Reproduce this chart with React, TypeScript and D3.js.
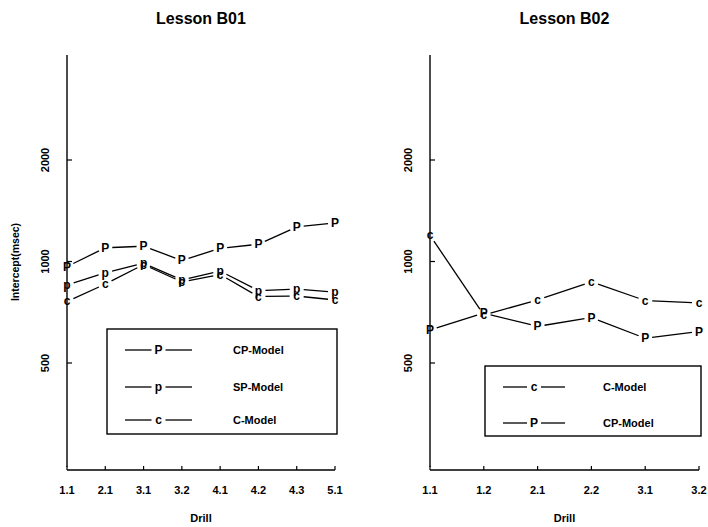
import React from 'react';
import * as d3 from 'd3';

// Lesson B01
const drillsB01 = ['1.1', '2.1', '3.1', '3.2', '4.1', '4.2', '4.3', '5.1'];
const cpB01 = [966, 1098, 1110, 1007, 1094, 1125, 1266, 1302];
const spB01 = [852, 926, 988, 882, 937, 820, 828, 811];
const cB01 = [761, 857, 979, 870, 915, 787, 790, 769];

// Lesson B02
const drillsB02 = ['1.1', '1.2', '2.1', '2.2', '3.1', '3.2'];
const cB02 = [1196, 694, 769, 870, 766, 753];
const cpB02 = [627, 703, 642, 682, 592, 620];

const yTicks = [500, 1000, 2000];

const FONT = '"Liberation Sans", Arial, Helvetica, sans-serif';

type Series = { sym: string; label: string; values: number[] };

function gappedSegments(pts: [number, number][], gap: number) {
  const segs: [number, number, number, number][] = [];
  for (let i = 0; i < pts.length - 1; i++) {
    const [x0, y0] = pts[i];
    const [x1, y1] = pts[i + 1];
    const len = Math.hypot(x1 - x0, y1 - y0);
    if (len <= gap * 2) continue;
    const ux = (x1 - x0) / len;
    const uy = (y1 - y0) / len;
    segs.push([x0 + ux * gap, y0 + uy * gap, x1 - ux * gap, y1 - uy * gap]);
  }
  return segs;
}

function Panel({ title, drills, series, left, right, legend, showYLabel }: {
  title: string;
  drills: string[];
  series: Series[];
  left: number;
  right: number;
  legend: { x: number; y: number; w: number; h: number; rows: number[]; lx0: number; lx1: number; tx: number };
  showYLabel: boolean;
}) {
  const y = d3.scaleLog().domain([250, 4000]).range([464.5, 58.5]);
  const x = d3.scalePoint<string>().domain(drills).range([left, right]);
  const axisBottom = 470;
  const cx = (left + right) / 2;

  return (
    <g fontFamily={FONT}>
      <text x={cx} y={24} textAnchor="middle" fontSize={16} fontWeight="bold">{title}</text>
      {/* y axis */}
      <line x1={left} x2={left} y1={55} y2={467} stroke="#000" strokeWidth={1.4} />
      {yTicks.map(t => (
        <g key={t}>
          <line x1={left} x2={left + 5} y1={y(t)} y2={y(t)} stroke="#000" strokeWidth={1.2} />
          <text transform={`translate(${left - 18},${y(t)}) rotate(-90)`} textAnchor="middle"
            fontSize={11} fontWeight="bold">{t}</text>
        </g>
      ))}
      {showYLabel && (
        <text transform={`translate(19,262) rotate(-90)`} textAnchor="middle" fontSize={10.5} fontWeight="bold">
          Intercept(msec)
        </text>
      )}
      {/* x axis */}
      <line x1={left} x2={right} y1={axisBottom} y2={axisBottom} stroke="#000" strokeWidth={1.4} />
      {drills.map(d => (
        <g key={d}>
          <line x1={x(d)!} x2={x(d)!} y1={axisBottom} y2={axisBottom - 4} stroke="#000" strokeWidth={1.2} />
          <text x={x(d)!} y={494} textAnchor="middle" fontSize={11} fontWeight="bold">{d}</text>
        </g>
      ))}
      <text x={cx} y={522} textAnchor="middle" fontSize={11} fontWeight="bold">Drill</text>
      {/* series */}
      {series.map(s => {
        const pts = s.values.map((v, i) => [x(drills[i])!, y(v)] as [number, number]);
        return (
          <g key={s.label}>
            {gappedSegments(pts, 7).map((sg, i) => (
              <line key={i} x1={sg[0]} y1={sg[1]} x2={sg[2]} y2={sg[3]} stroke="#000" strokeWidth={1.3} />
            ))}
            {pts.map((p, i) => (
              <text key={i} x={p[0]} y={p[1] + 4} textAnchor="middle" fontSize={12} fontWeight="bold">{s.sym}</text>
            ))}
          </g>
        );
      })}
      {/* legend */}
      <rect x={legend.x} y={legend.y} width={legend.w} height={legend.h} fill="#fff" stroke="#000" strokeWidth={1.4} />
      {series.map((s, i) => {
        const ry = legend.rows[i];
        const mid = (legend.lx0 + legend.lx1) / 2;
        return (
          <g key={s.label}>
            <line x1={legend.lx0} x2={mid - 7} y1={ry} y2={ry} stroke="#000" strokeWidth={1.3} />
            <line x1={mid + 7} x2={legend.lx1} y1={ry} y2={ry} stroke="#000" strokeWidth={1.3} />
            <text x={mid} y={ry + 4} textAnchor="middle" fontSize={12} fontWeight="bold">{s.sym}</text>
            <text x={legend.tx} y={ry + 4} fontSize={11} fontWeight="bold">{s.label}</text>
          </g>
        );
      })}
    </g>
  );
}

export default function App() {
  const seriesB01: Series[] = [
    { sym: 'P', label: 'CP-Model', values: cpB01 },
    { sym: 'p', label: 'SP-Model', values: spB01 },
    { sym: 'c', label: 'C-Model', values: cB01 },
  ];
  const seriesB02: Series[] = [
    { sym: 'c', label: 'C-Model', values: cB02 },
    { sym: 'P', label: 'CP-Model', values: cpB02 },
  ];
  return (
    <svg width={708} height={527} style={{ position: 'absolute', left: 0, top: 0, background: '#fff' }}>
      <rect width={708} height={527} fill="#fff" />
      <Panel title="Lesson B01" drills={drillsB01} series={seriesB01} left={67} right={335} showYLabel
        legend={{ x: 107, y: 329, w: 230, h: 105, rows: [350, 387, 420], lx0: 125, lx1: 192, tx: 233 }} />
      <Panel title="Lesson B02" drills={drillsB02} series={seriesB02} left={430} right={699} showYLabel={false}
        legend={{ x: 485, y: 366, w: 216, h: 70, rows: [387, 423], lx0: 503, lx1: 565, tx: 603 }} />
    </svg>
  );
}
